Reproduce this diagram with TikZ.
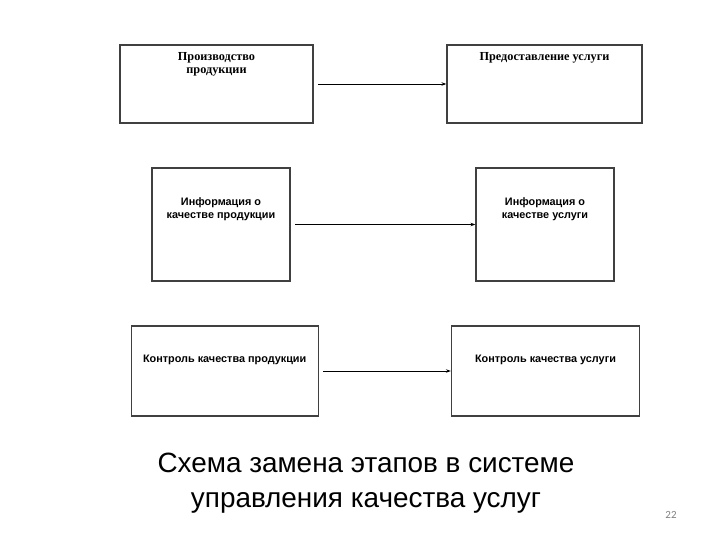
\documentclass[tikz,border=0pt]{standalone}
\usepackage{fontspec}
\setmainfont{Liberation Serif}
\newfontfamily\sansf{Liberation Sans}
\newfontfamily\numf{Carlito}
\usepackage{tikz}
\usetikzlibrary{arrows.meta}

\tikzset{
    box/.style={draw=black!75, line width=1.2bp, minimum width=#1, inner sep=0pt},
    serif/.style={font=\fontsize{12.3}{13.5}\selectfont\bfseries, align=center, anchor=north},
    sans/.style={font=\sansf\fontsize{10.9}{12.5}\selectfont\bfseries, align=center},
    flow/.style={-{Stealth[length=5bp, width=3.5bp]}, line width=0.8bp, shorten <=4.5bp}
}

\begin{document}
\begin{tikzpicture}[x=1bp, y=-1bp]
    \useasboundingbox (0,0) rectangle (720,540);
    \node[box=193bp, minimum height=78bp]  (prod)     at (216.5,84)  {};
    \node[box=195bp, minimum height=78bp]  (serv)     at (544.5,84)  {};
    \node[box=138bp, minimum height=113bp] (infoprod) at (221,224.5) {};
    \node[box=138bp, minimum height=113bp] (infoserv) at (545,224.5) {};
    \node[box=187bp, minimum height=90bp]  (ctrlprod) at (224.7,371) {};
    \node[box=188bp, minimum height=90bp]  (ctrlserv) at (545.5,371) {};

    \node[serif] (prodtxt) at ([yshift=-4.5bp]prod.north) {Производство\\продукции};
    \node[serif] (servtxt) at ([yshift=-4.5bp]serv.north) {Предоставление услуги};
    \node[sans] (infoprodtxt) at ([yshift=15.5bp]infoprod.center) {Информация о\\качестве продукции};
    \node[sans] (infoservtxt) at ([yshift=15.5bp]infoserv.center) {Информация о\\качестве услуги};
    \node[sans] (ctrlprodtxt) at ([yshift=11.5bp]ctrlprod.center) {Контроль качества продукции};
    \node[sans] (ctrlservtxt) at ([yshift=11.5bp]ctrlserv.center) {Контроль качества услуги};

    \path
        (prod) edge [flow] (serv)
        (infoprod) edge [flow] (infoserv)
        (ctrlprod) edge [flow] (ctrlserv);

    \node[font=\sansf\fontsize{28}{35}\selectfont, align=center] (title) at (366,483)
        {Схема замена этапов в системе\\управления качества услуг};
    \node[font=\numf\fontsize{11}{13}\selectfont, text=black!50] (pagenum) at (671,515) {22};
\end{tikzpicture}
\end{document}
